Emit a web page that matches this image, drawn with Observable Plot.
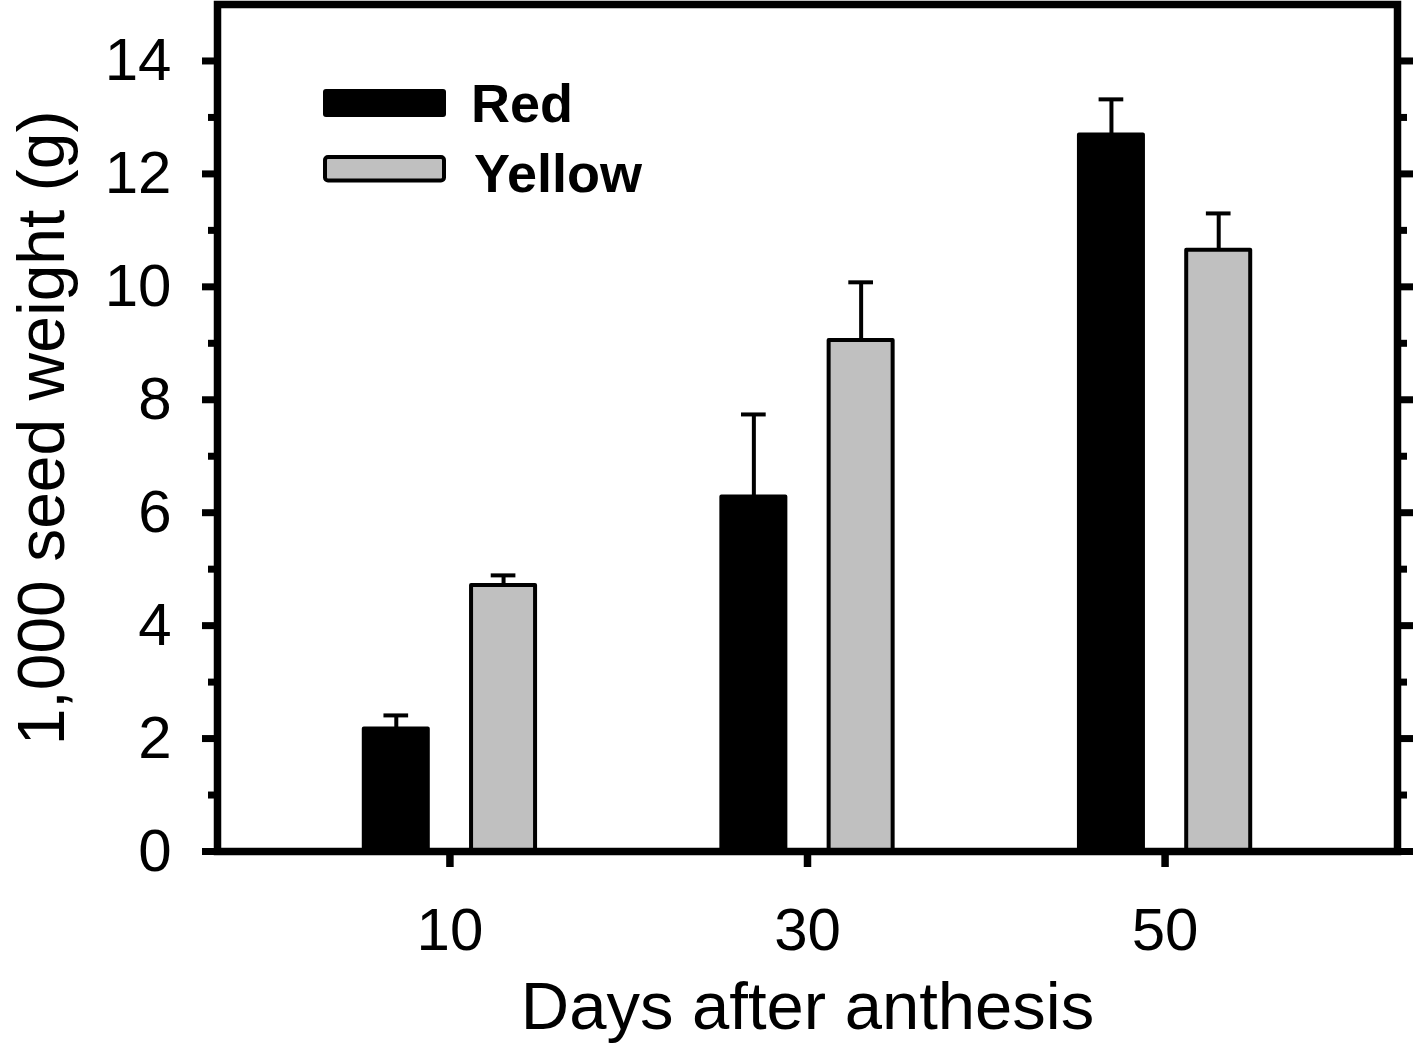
<!DOCTYPE html>
<html>
<head>
<meta charset="utf-8">
<script src="https://cdn.jsdelivr.net/npm/d3@7"></script>
<script src="https://cdn.jsdelivr.net/npm/@observablehq/plot@0.6"></script>
<style>
  body { margin: 0; background: #fff; }
  #wrap { position: relative; width: 1417px; height: 1051px; font-family: "Liberation Sans", Arial, sans-serif; }
  #legend { position: absolute; left: 0; top: 0; pointer-events: none; }
</style>
</head>
<body>
<div id="wrap"></div>
<script>
// ---- data ----
const days = [10, 30, 50];
const redMean = [2.17, 6.28, 12.69];
const redErr = [0.24, 1.46, 0.63];
const yellowMean = [4.71, 9.05, 10.65];
const yellowErr = [0.18, 1.03, 0.65];
const seriesNames = ["Red", "Yellow"];
const seriesFill = ["#000000", "#c0c0c0"];
const majorTicksY = [0, 2, 4, 6, 8, 10, 12, 14];
const minorTicksY = [1, 3, 5, 7, 9, 11, 13];
const ticksX = [10, 30, 50];
const xTitle = "Days after anthesis";
const yTitle = "1,000 seed weight (g)";

// ---- layout helpers ----
const offset = {Red: -3, Yellow: 3};
const halfW = 1.79;
const capHalf = 0.69;
const font = "'Liberation Sans', Arial, sans-serif";
const fillOf = name => seriesFill[seriesNames.indexOf(name)];

const rows = [];
days.forEach((d, i) => {
  rows.push({day: d, series: "Red", mean: redMean[i], err: redErr[i]});
  rows.push({day: d, series: "Yellow", mean: yellowMean[i], err: yellowErr[i]});
});
const cx = d => d.day + offset[d.series];

const chart = Plot.plot({
  width: 1417,
  height: 1051,
  marginLeft: 217,
  marginRight: 20,
  marginTop: 4,
  marginBottom: 200,
  style: {fontFamily: font, background: "white", color: "black", overflow: "visible"},
  x: {domain: [-3, 63]},
  y: {domain: [0, 15]},
  marks: [
    Plot.ruleX(rows, {x: cx, y1: "mean", y2: d => d.mean + d.err, stroke: "black", strokeWidth: 4}),
    Plot.ruleY(rows, {y: d => d.mean + d.err, x1: d => cx(d) - capHalf, x2: d => cx(d) + capHalf, stroke: "black", strokeWidth: 4}),
    Plot.rect(rows, {x1: d => cx(d) - halfW, x2: d => cx(d) + halfW, y1: 0, y2: "mean", fill: d => fillOf(d.series), stroke: "black", strokeWidth: 4, strokeLinejoin: "round"}),
    Plot.axisY({ticks: majorTicksY, tickSize: 15, tickPadding: 31, strokeWidth: 7, fontSize: 60, label: null}),
    Plot.axisY({ticks: minorTicksY, tickSize: 9, strokeWidth: 7, tickFormat: () => "", label: null}),
    Plot.axisY({anchor: "right", ticks: majorTicksY, tickSize: 15, strokeWidth: 7, tickFormat: () => "", label: null}),
    Plot.axisY({anchor: "right", ticks: minorTicksY, tickSize: 9, strokeWidth: 7, tickFormat: () => "", label: null}),
    Plot.axisX({ticks: ticksX, tickSize: 16, tickPadding: 40, strokeWidth: 7.5, fontSize: 60, label: null}),
    Plot.frame({stroke: "black", strokeWidth: 7.5}),
    Plot.text([yTitle], {text: d => d, frameAnchor: "left", rotate: -90, dx: -154, lineAnchor: "bottom", textAnchor: "middle", fontSize: 66, fill: "black"}),
    Plot.text([xTitle], {text: d => d, frameAnchor: "bottom", dy: 177, lineAnchor: "bottom", textAnchor: "middle", fontSize: 67, fill: "black"})
  ]
});

const wrap = document.getElementById("wrap");
wrap.appendChild(chart);

// ---- legend overlay (inside the plot area, top-left) ----
const leg = d3.select(wrap).append("svg")
  .attr("id", "legend")
  .attr("width", 1417).attr("height", 1051);
const items = seriesNames.map((name, i) => ({name, fill: seriesFill[i], i}));
const g = leg.selectAll("g").data(items).join("g");
g.append("rect")
  .attr("x", d => d.i === 0 ? 323 : 325)
  .attr("y", d => d.i === 0 ? 89 : 157)
  .attr("width", d => d.i === 0 ? 123 : 119)
  .attr("height", d => d.i === 0 ? 28 : 23.5)
  .attr("rx", 3)
  .attr("fill", d => d.fill)
  .attr("stroke", "black")
  .attr("stroke-width", d => d.i === 0 ? 0 : 4);
g.append("text")
  .attr("x", d => d.i === 0 ? 471 : 474)
  .attr("y", d => d.i === 0 ? 121.7 : 191.7)
  .attr("font-family", font)
  .attr("font-weight", "bold")
  .attr("font-size", 54)
  .attr("fill", "black")
  .text(d => d.name);
</script>
</body>
</html>
